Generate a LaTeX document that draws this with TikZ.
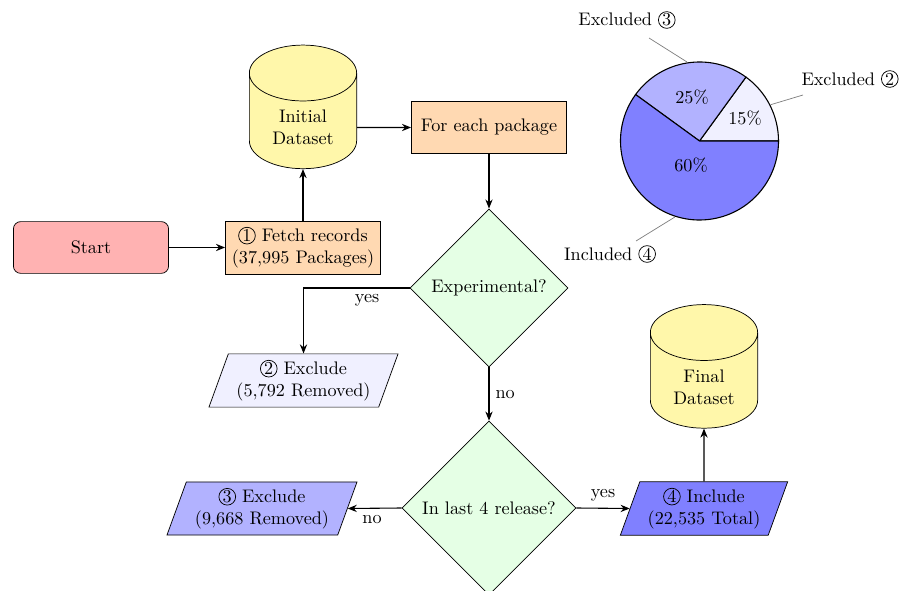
\documentclass[tikz,border=0pt]{standalone}
\usetikzlibrary{shapes.geometric,arrows.meta,calc}
\newcommand{\cnum}[2]{\tikz[baseline=(#2.base)]\node[draw, circle, inner sep=0pt, minimum size=9.2pt, line width=0.4pt] (#2) {#1};}
\definecolor{dbyellow}{HTML}{FFF7AA}
\tikzset{
  startbox/.style={rectangle, rounded corners=4pt, draw, fill=red!30, minimum width=3cm, minimum height=1cm, align=center},
  procbox/.style={rectangle, draw, fill=orange!30, minimum width=3cm, minimum height=1cm, align=center},
  decision/.style={diamond, draw, fill=green!10, aspect=1, align=center, inner sep=1pt},
  iobox/.style={trapezium, trapezium left angle=70, trapezium right angle=110, trapezium stretches body, draw, minimum height=1cm, align=center},
  dbase/.style={cylinder, shape border rotate=90, aspect=0.76, draw, fill=dbyellow, minimum width=59pt, minimum height=68pt, align=center},
  flow/.style={draw, semithick, -{Stealth[length=5pt,width=4pt]}},
  elabel/.style={font=\normalsize},
  pinline/.style={draw=gray, thin},
}
\begin{document}
\begin{tikzpicture}[x=0.55pt,y=0.55pt]
\useasboundingbox (0,0) rectangle (901,590);
% flowchart nodes
\node[startbox] (start) at (91,342.5) {Start};
\node[procbox] (fetch) at (303,342.5) {\cnum{1}{c1} Fetch records\\(37,995 Packages)};
\node[dbase] (init) at (303,462.5) {Initial\\Dataset};
\node[procbox] (each) at (489,462.5) {For each package};
\node[decision, minimum width=87pt, minimum height=87pt] (exp) at (489,302) {Experimental?};
\node[iobox, fill=blue!6, minimum width=104pt] (ex2) at (303.5,209.5) {\cnum{2}{c2} Exclude\\(5,792 Removed)};
\node[decision, minimum width=95.7pt, minimum height=95.7pt] (last) at (489,82) {In last 4 release?};
\node[iobox, fill=blue!30, minimum width=104.5pt] (ex3) at (262,81.5) {\cnum{3}{c3} Exclude\\(9,668 Removed)};
\node[iobox, fill=blue!50, minimum width=92pt] (in4) at (704,81.5) {\cnum{4}{c4} Include\\(22,535 Total)};
\node[dbase] (final) at (704,203) {Final\\Dataset};
% connectors
\draw[flow] (start) -- (fetch);
\draw[flow] (fetch.north) -- (init.south);
\draw[flow] (init) -- (each);
\draw[flow] (each) -- (exp);
\draw[flow] (exp.west) -| (ex2.north) node[pos=0.2, below, elabel] {yes};
\draw[flow] (exp.south) -- (last.north) node[midway, right, elabel] {no};
\draw[flow] (last.west) -- (ex3.east) node[pos=0.55, below, elabel] {no};
\draw[flow] (last.east) -- (in4.west) node[midway, above, elabel] {yes};
\draw[flow] (in4.north) -- (final.south);
% pie chart
\coordinate (pc) at (699.5,449);
\filldraw[fill=blue!6, draw=black, semithick] (pc) -- ++(0:79) arc[start angle=0, end angle=54, radius=79] -- cycle;
\filldraw[fill=blue!30, draw=black, semithick] (pc) -- ++(54:79) arc[start angle=54, end angle=144, radius=79] -- cycle;
\filldraw[fill=blue!50, draw=black, semithick] (pc) -- ++(144:79) arc[start angle=144, end angle=360, radius=79] -- cycle;
\node (p15) at (745,472) {15\%};
\node (p25) at (692,493) {25\%};
\node (p60) at (691,425) {60\%};
\node (l2) at (850,511) {Excluded \cnum{2}{c5}};
\node (l3) at (627,570) {Excluded \cnum{3}{c6}};
\node (l4) at (610,336) {Included \cnum{4}{c7}};
\coordinate (a2) at ($(pc)+(27:80)$);
\coordinate (b2) at (803,495);
\coordinate (a3) at ($(pc)+(99:80)$);
\coordinate (b3) at (649,552);
\coordinate (a4) at ($(pc)+(252:80)$);
\coordinate (b4) at (636,349);
\draw[pinline] (a2) -- (b2);
\draw[pinline] (a3) -- (b3);
\draw[pinline] (a4) -- (b4);
\end{tikzpicture}
\end{document}
